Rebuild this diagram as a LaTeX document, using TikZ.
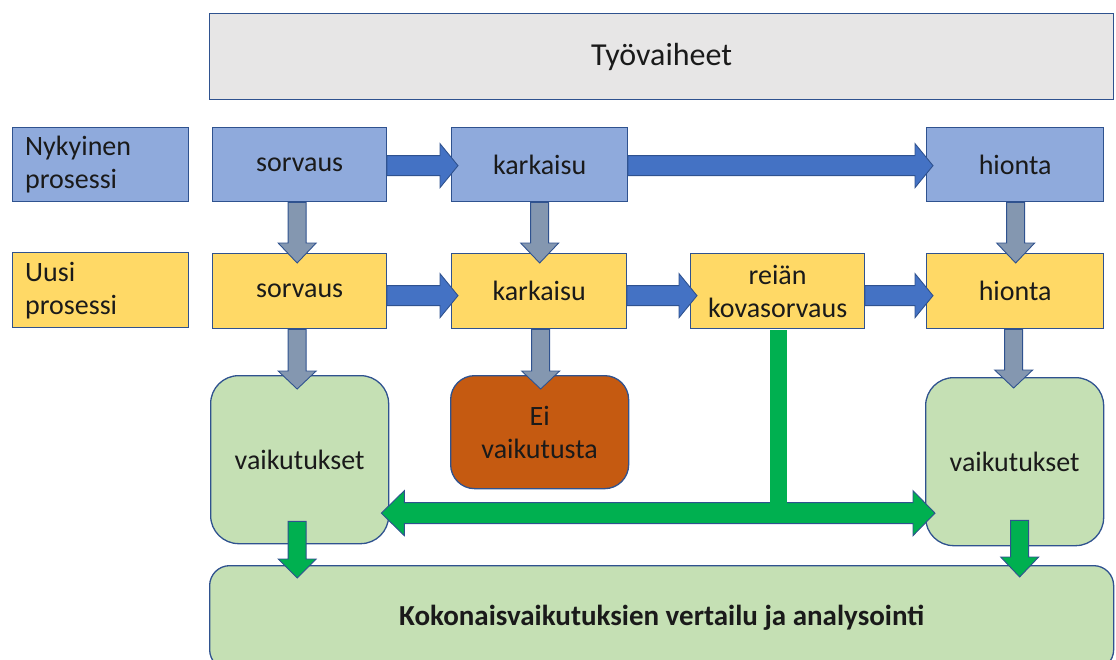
\documentclass[tikz,border=0pt]{standalone}
\usepackage{fontspec}
\setmainfont{Carlito}
\usetikzlibrary{calc}
\definecolor{bordc}{HTML}{2F528F}
\definecolor{grayfill}{HTML}{E7E6E6}
\definecolor{bluefill}{HTML}{8FAADC}
\definecolor{yellowfill}{HTML}{FFD966}
\definecolor{greenfill}{HTML}{C5E0B4}
\definecolor{orangefill}{HTML}{C55A11}
\definecolor{bluearrow}{HTML}{4472C4}
\definecolor{grayarrow}{HTML}{8497B0}
\definecolor{greenarrow}{HTML}{00B050}
\definecolor{txt}{HTML}{1A1A1A}

% horizontal block arrow: #1 style, #2 from, #3 to, #4 offset down (px)
\newcommand{\harr}[4]{%
  \draw[#1] let \p1=(#2.east), \p2=(#3.west) in
    ({\x1-0.5pt},{\y1+10pt-#4pt}) -- ({\x2-11pt},{\y1+10pt-#4pt}) --
    ({\x2-11pt},{\y1+22pt-#4pt}) -- ({\x2+7pt},{\y1-#4pt}) --
    ({\x2-11pt},{\y1-22pt-#4pt}) -- ({\x2-11pt},{\y1-10pt-#4pt}) --
    ({\x1-0.5pt},{\y1-10pt-#4pt}) -- cycle;}
% vertical block arrow: #1 style, #2 from, #3 to, #4 dx, #5 start below from.south,
% #6 head start below to.north, #7 tip below to.north
\newcommand{\varr}[7]{%
  \draw[#1] let \p1=(#2.south), \p2=(#3.north) in
    ({\x1+#4pt-9pt},{\y1-(#5pt)}) -- ({\x1+#4pt-9pt},{\y2-(#6pt)}) --
    ({\x1+#4pt-19pt},{\y2-(#6pt)}) -- ({\x1+#4pt},{\y2-(#7pt)}) --
    ({\x1+#4pt+19pt},{\y2-(#6pt)}) -- ({\x1+#4pt+9pt},{\y2-(#6pt)}) --
    ({\x1+#4pt+9pt},{\y1-(#5pt)}) -- cycle;}

\begin{document}
\begin{tikzpicture}[x=1pt,y=-1pt,
  box/.style={draw=bordc, line width=1.3pt, inner sep=0pt, anchor=north west,
    align=center, text=txt, font=\fontsize{28}{33}\selectfont},
  headbox/.style={box, fill=grayfill, font=\fontsize{32}{36}\selectfont},
  nykbox/.style={box, fill=bluefill},
  uusibox/.style={box, fill=yellowfill},
  labelbox/.style={align=left, text width=151pt, inner xsep=12.5pt},
  vaikbox/.style={box, fill=greenfill, rounded corners=28pt},
  eibox/.style={box, fill=orangefill, rounded corners=24pt},
  kokbox/.style={box, fill=greenfill, rounded corners=20pt,
    font=\fontsize{29}{34}\selectfont\bfseries},
  barrow/.style={fill=bluearrow, draw=bordc, line width=0.9pt},
  garrow/.style={fill=grayarrow, draw=bordc, line width=0.9pt},
  grarrow/.style={fill=greenarrow, draw=bordc, line width=0.9pt}
]
\useasboundingbox (0,0) rectangle (1116,659);
\clip (0,0) rectangle (1116,659);

% header
\node[headbox, minimum width=904pt, minimum height=86pt] (tv) at (209,13) {Työvaiheet};

% current process
\node[nykbox, labelbox, minimum width=176pt, minimum height=74pt] (nyk) at (12,127) {Nykyinen\\prosessi};
\node[nykbox, minimum width=174pt, minimum height=74pt] (s1) at (212,127) {sorvaus};
\node[nykbox, minimum width=176pt, minimum height=74pt] (k1) at (451,127) {karkaisu};
\node[nykbox, minimum width=177pt, minimum height=74pt] (h1) at (926,127) {hionta};

% new process
\node[uusibox, labelbox, minimum width=176pt, minimum height=75pt] (uus) at (12,252) {Uusi\\prosessi};
\node[uusibox, minimum width=174pt, minimum height=75pt] (s2) at (212,253) {sorvaus};
\node[uusibox, minimum width=175pt, minimum height=75pt] (k2) at (451,253) {karkaisu};
\node[uusibox, minimum width=174pt, minimum height=75pt] (r2) at (690,253) {reiän\\kovasorvaus};
\node[uusibox, minimum width=177pt, minimum height=75pt] (h2) at (926,253) {hionta};

% effects
\node[vaikbox, minimum width=178pt, minimum height=168pt] (vL) at (210,375) {vaikutukset};
\node[eibox, minimum width=178pt, minimum height=113pt] (ei) at (450,375) {Ei\\vaikutusta};
\node[vaikbox, minimum width=178pt, minimum height=168pt] (vR) at (925,377) {vaikutukset};
\node[kokbox, minimum width=904pt, minimum height=104pt] (kok) at (209,565) {Kokonaisvaikutuksien vertailu ja analysointi};

% horizontal blue arrows
\harr{barrow}{s1}{k1}{1}
\harr{barrow}{k1}{h1}{1}
\harr{barrow}{s2}{k2}{4.5}
\harr{barrow}{k2}{r2}{4.5}
\harr{barrow}{r2}{h2}{4.5}

% vertical gray arrows
\varr{garrow}{s1}{s2}{-2.5}{0}{-10}{10}
\varr{garrow}{k1}{k2}{0}{0}{-10}{10}
\varr{garrow}{h1}{h2}{0.5}{0}{-10}{10}
\varr{garrow}{s2}{vL}{-2.5}{0}{-4}{14}
\varr{garrow}{k2}{ei}{1.5}{0}{-4}{14}
\varr{garrow}{h2}{vR}{-1.5}{0}{-7}{11}

% green double arrow and feed from kovasorvaus
\draw[grarrow] let \p1=(vL.east), \p2=(vR.west) in
  ({\x1-8pt},{\y1-53.5pt}) -- ({\x1+15pt},{\y1-31pt}) -- ({\x1+15pt},{\y1-43pt}) --
  ({\x2-12pt},{\y1-43pt}) -- ({\x2-12pt},{\y1-31pt}) -- ({\x2+10pt},{\y1-53.5pt}) --
  ({\x2-12pt},{\y1-76pt}) -- ({\x2-12pt},{\y1-64pt}) -- ({\x1+15pt},{\y1-64pt}) --
  ({\x1+15pt},{\y1-76pt}) -- cycle;
\fill[greenarrow] let \p1=(r2.south), \p2=(vL.east) in
  ({\x1-7.5pt},{\y1-0.7pt}) rectangle ({\x1+9pt},{\y2-44.5pt});

% green arrows down to the comparison box
\varr{grarrow}{vL}{kok}{-2.5}{-23}{-6}{13}
\varr{grarrow}{vR}{kok}{5}{-26}{-8}{12}
\end{tikzpicture}
\end{document}
